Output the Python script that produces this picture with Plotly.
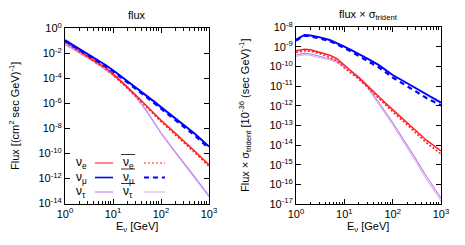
import numpy as np
import plotly.graph_objects as go

# ---------------- data (log10 of values) ----------------
energy = [1, 1.5, 2, 3, 5, 7, 10, 15, 20, 30, 50, 70, 100, 200, 300, 500, 1000]

# left panel: flux [(cm^2 sec GeV)^-1], log10
flux_nue      = [-1.07, -1.50, -1.80, -2.22, -2.77, -3.15, -3.62, -4.22, -4.70, -5.35, -6.20, -6.75, -7.35, -8.40, -9.00, -9.80, -10.90]
flux_nuebar   = [-1.12, -1.56, -1.86, -2.29, -2.85, -3.23, -3.72, -4.33, -4.78, -5.44, -6.30, -6.86, -7.46, -8.52, -9.12, -9.92, -11.02]
flux_numu     = [-0.94, -1.35, -1.63, -2.05, -2.58, -2.93, -3.35, -3.85, -4.20, -4.72, -5.38, -5.82, -6.30, -7.20, -7.73, -8.40, -9.45]
flux_numubar  = [-1.00, -1.42, -1.70, -2.12, -2.66, -3.02, -3.45, -3.95, -4.31, -4.84, -5.50, -5.95, -6.43, -7.34, -7.87, -8.55, -9.60]
flux_nutau    = [-1.26, -1.65, -1.93, -2.35, -2.90, -3.27, -3.72, -4.27, -4.75, -5.45, -6.60, -7.45, -8.35, -9.90, -10.75, -11.85, -13.40]
flux_nutaubar = [-1.32, -1.71, -1.99, -2.41, -2.96, -3.33, -3.78, -4.33, -4.82, -5.52, -6.68, -7.53, -8.44, -9.99, -10.85, -11.95, -13.50]

# right panel: flux x sigma_trident [1e-36 (sec GeV)^-1], log10
fs_nue      = [-9.19, -9.12, -9.14, -9.25, -9.42, -9.60, -9.95, -10.30, -10.55, -10.95, -11.50, -11.85, -12.20, -12.85, -13.25, -13.75, -14.30]
fs_nuebar   = [-9.27, -9.20, -9.22, -9.33, -9.52, -9.72, -10.07, -10.40, -10.65, -11.05, -11.60, -11.95, -12.30, -12.97, -13.37, -13.88, -14.45]
fs_numu     = [-8.63, -8.39, -8.42, -8.50, -8.65, -8.80, -8.98, -9.20, -9.38, -9.60, -9.90, -10.15, -10.43, -10.85, -11.10, -11.45, -11.84]
fs_numubar  = [-8.68, -8.43, -8.46, -8.55, -8.70, -8.86, -9.05, -9.28, -9.47, -9.70, -10.02, -10.27, -10.56, -11.00, -11.25, -11.60, -11.98]
fs_nutau    = [-9.41, -9.33, -9.36, -9.45, -9.60, -9.72, -9.95, -10.30, -10.55, -11.00, -11.75, -12.30, -12.85, -14.00, -14.70, -15.60, -16.70]
fs_nutaubar = [-9.48, -9.40, -9.43, -9.52, -9.67, -9.80, -10.02, -10.37, -10.63, -11.08, -11.85, -12.40, -12.97, -14.13, -14.84, -15.75, -16.85]

x_tickvals = [1, 10, 100, 1000]
x_ticktext = ["10<sup>0</sup>", "10<sup>1</sup>", "10<sup>2</sup>", "10<sup>3</sup>"]
yl_exps = [0, -2, -4, -6, -8, -10, -12, -14]
yr_exps = [-8, -9, -10, -11, -12, -13, -14, -15, -16, -17]

legend_labels = ["ν<sub>e</sub>", "ν<sub>μ</sub>", "ν<sub>τ</sub>"]

# ---------------- styles ----------------
RED = "#ff2020"
BLUE = "#0000ff"
PURP = "#b97aea"
PURP2 = "#d6acf6"
FONT = "Liberation Sans, Arial, sans-serif"

styles = {
    "nue": dict(color=RED, width=1.5, dash="solid"),
    "nuebar": dict(color=RED, width=1.6, dash="2px,2px"),
    "numu": dict(color=BLUE, width=2.0, dash="solid"),
    "numubar": dict(color=BLUE, width=2.2, dash="5px,4px"),
    "nutau": dict(color=PURP, width=1.1, dash="solid"),
    "nutaubar": dict(color=PURP2, width=1.0, dash="solid"),
}

fig = go.Figure()

def add(series, key, xa, ya):
    fig.add_trace(go.Scatter(x=energy, y=np.power(10.0, np.array(series)), mode="lines",
                             line=styles[key], xaxis=xa, yaxis=ya, showlegend=False,
                             hoverinfo="skip"))

for s, k in [(flux_nutau, "nutau"), (flux_nutaubar, "nutaubar"), (flux_nue, "nue"),
             (flux_nuebar, "nuebar"), (flux_numu, "numu"), (flux_numubar, "numubar")]:
    add(s, k, "x", "y")
for s, k in [(fs_nutau, "nutau"), (fs_nutaubar, "nutaubar"), (fs_nue, "nue"),
             (fs_nuebar, "nuebar"), (fs_numu, "numu"), (fs_numubar, "numubar")]:
    add(s, k, "x2", "y2")

W, H = 465, 245
def px(x):
    return x / W
def py(y):
    return 1 - y / H

axis_common = dict(type="log", showline=True, linecolor="black", linewidth=1, mirror="ticks",
                   ticks="inside", ticklen=5, tickcolor="black", showgrid=False, zeroline=False,
                   automargin=False, tickfont=dict(family=FONT, size=11, color="black"))

xaxis_cfg = dict(axis_common, range=[0, 3], tickmode="array", tickvals=x_tickvals, ticktext=x_ticktext,
                 minor=dict(ticks="inside", ticklen=2.5, tickcolor="black", dtick="D1", showgrid=False))

fig.update_layout(
    width=W, height=H, margin=dict(l=0, r=0, t=0, b=0, pad=0, autoexpand=False),
    paper_bgcolor="white", plot_bgcolor="white",
    font=dict(family=FONT, size=11, color="black"),
    xaxis=dict(xaxis_cfg, domain=[px(65), px(209)], anchor="y"),
    yaxis=dict(axis_common, domain=[py(203.5), py(28.3)], anchor="x", range=[-14, 0],
               tickmode="array", tickvals=[10.0 ** e for e in yl_exps],
               ticktext=["10<sup>%d</sup>" % e for e in yl_exps]),
    xaxis2=dict(xaxis_cfg, domain=[px(296), px(441)], anchor="y2"),
    yaxis2=dict(axis_common, domain=[py(204), py(27.3)], anchor="x2", range=[-17, -8],
                tickmode="array", tickvals=[10.0 ** e for e in yr_exps],
                ticktext=["10<sup>%d</sup>" % e for e in yr_exps]),
)

def note(text, x, y, size=11, angle=0):
    return dict(text=text, x=px(x), y=py(y), xref="paper", yref="paper", showarrow=False,
                xanchor="center", yanchor="middle", textangle=angle, font=dict(size=size))

ann = []
ann.append(note("flux", 137, 15))
ann.append(note("flux × σ<sub>trident</sub>", 368, 15))
for cx in (137, 368):
    ann.append(note("E<sub>ν</sub> [GeV]", cx, 227))
ann.append(note("Flux [(cm<sup>2</sup> sec GeV)<sup>-1</sup>]", 14, 116, angle=-90))
ann.append(note("Flux × σ<sub>trident</sub> [10<sup>-36</sup> (sec GeV)<sup>-1</sup>]", 245, 116, angle=-90))

# legend block (text then sample line, two columns)
rows_y = [163, 177.5, 192]
shapes = []
keys = [("nue", "nuebar"), ("numu", "numubar"), ("nutau", "nutaubar")]
for lbl, ry, (k1, k2) in zip(legend_labels, rows_y, keys):
    ann.append(note(lbl, 81, ry, size=12))
    ann.append(note(lbl, 128, ry, size=12))
    shapes.append(dict(type="line", xref="paper", yref="paper", x0=px(121), x1=px(135),
                       y0=py(ry - 8.5), y1=py(ry - 8.5), line=dict(color="black", width=0.8)))
    s1 = dict(styles[k1]); s1["width"] = max(1.0, s1["width"] - 0.4)
    s2 = dict(styles[k2]); s2["width"] = max(1.0, s2["width"] - 0.4)
    shapes.append(dict(type="line", xref="paper", yref="paper", x0=px(95), x1=px(113),
                       y0=py(ry), y1=py(ry), line=s1))
    shapes.append(dict(type="line", xref="paper", yref="paper", x0=px(144), x1=px(165),
                       y0=py(ry), y1=py(ry), line=s2))

fig.update_layout(annotations=ann, shapes=shapes)
fig.write_html("out.html", config={"displayModeBar": False},
               post_script="document.body.style.margin='0';document.body.style.overflow='hidden';")
